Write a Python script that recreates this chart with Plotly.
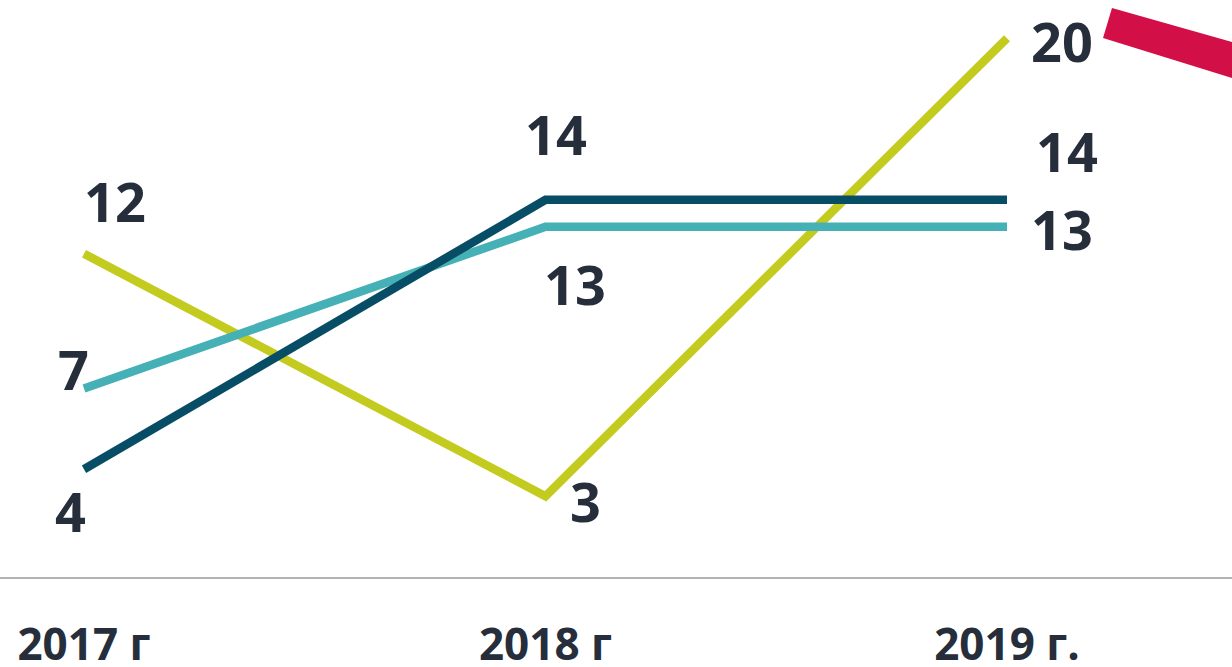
import plotly.graph_objects as go

W, H = 1232, 667

categories = ["2017 г", "2018 г", "2019 г."]
series_names = ["Серия 1", "Серия 2", "Серия 3"]
values_green = [12, 3, 20]
values_light = [7, 13, 13]
values_dark = [4, 14, 14]

colors = {"green": "#c3cb1f", "light": "#45b1b6", "dark": "#084d66"}
text_color = "#272e3b"
FONT = "Open Sans"

# label pixel offsets (style only)
off_green = [(31, 53), (40, -5), (55, -3)]
off_light = [(-11, 19), (29, -57), (55, -2)]
off_dark = [(-14, -42), (10, 66), (60, 49)]

xs = list(range(len(categories)))

fig = go.Figure()
series = [
    (series_names[0], values_green, colors["green"], off_green),
    (series_names[1], values_light, colors["light"], off_light),
    (series_names[2], values_dark, colors["dark"], off_dark),
]
for name, vals, col, offs in series:
    fig.add_trace(go.Scatter(
        x=xs, y=vals, mode="lines", name=name,
        line=dict(color=col, width=8.5),
        hoverinfo="skip", showlegend=False,
    ))
    for xi, v, (dx, dy) in zip(xs, vals, offs):
        fig.add_annotation(
            x=xi, y=v, text=str(v), showarrow=False,
            xshift=dx, yshift=dy,
            font=dict(family=FONT, size=54, color=text_color, weight="bold"),
        )

# decorative crimson stroke at top right
bottom_margin = 90
plot_h = H - bottom_margin


def px(x, y):
    return x / W, 1 - y / plot_h


pts = [px(1112, 8), px(1232, 42), px(1232, 78), px(1103, 38)]
path = "M " + " L ".join(f"{a},{b}" for a, b in pts) + " Z"
fig.add_shape(type="path", path=path, xref="paper", yref="paper",
              fillcolor="#d30f48", line=dict(width=0), layer="above")

unit_x = 461.5
x0 = 84
unit_y = 26.94

fig.update_layout(
    width=W, height=H,
    margin=dict(l=0, r=0, t=0, b=bottom_margin, pad=0, autoexpand=False),
    paper_bgcolor="white", plot_bgcolor="white",
    xaxis=dict(
        range=[-x0 / unit_x, (W - x0) / unit_x],
        tickmode="array", tickvals=xs, ticktext=categories,
        showgrid=False, zeroline=False, automargin=False,
        showline=True, linecolor="#b3b3b3", linewidth=1.5,
        ticks="outside", ticklen=28, tickcolor="rgba(0,0,0,0)",
        tickfont=dict(family=FONT, size=44, color=text_color, weight="bold"),
        fixedrange=True,
    ),
    yaxis=dict(
        range=[0, plot_h / unit_y],
        visible=False, showgrid=False, zeroline=False, fixedrange=True,
        automargin=False,
    ),
    showlegend=False,
)

fig.write_html(
    "out.html",
    config={"displayModeBar": False},
    post_script="document.body.style.margin='0';document.body.style.overflow='hidden';",
)
